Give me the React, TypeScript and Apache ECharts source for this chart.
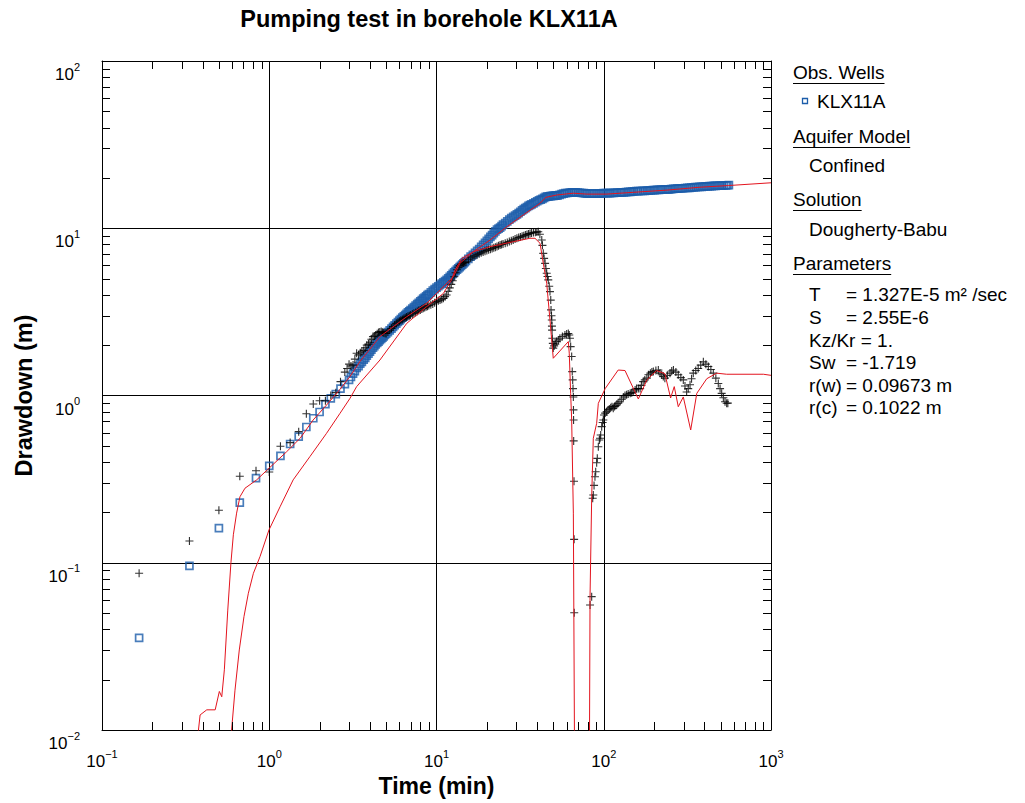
import React, { useEffect, useRef } from 'react';
import * as echarts from 'echarts';

const FONT = '"Liberation Sans", Arial, Helvetica, sans-serif';

const X_MIN = 0.1;
const X_MAX = 1000;
const Y_MIN = 0.01;
const Y_MAX = 100;
const X_DECADES = [0.1, 1, 10, 100];
const Y_DECADES = [0.01, 0.1, 1, 10];
const MINOR_MULTS = [2, 3, 4, 5, 6, 7, 8, 9];

const TITLE = 'Pumping test in borehole KLX11A';
const X_NAME = 'Time (min)';
const Y_NAME = 'Drawdown (m)';

// Observed drawdown, KLX11A (t in min, s in m)
const OBS_DRAWDOWN: [number, number][] = [
  [0.1667, 0.0355], [0.3333, 0.0957], [0.5, 0.161], [0.6667, 0.229], [0.8333, 0.321], [1.0, 0.379],
  [1.1667, 0.435], [1.3333, 0.513], [1.5, 0.568], [1.6667, 0.648], [1.8333, 0.731], [2.0, 0.797],
  [2.1667, 0.889], [2.3333, 0.962], [2.5, 1.02], [2.6667, 1.1], [2.8333, 1.17],
  [3.0, 1.24], [3.08, 1.29], [3.17, 1.35], [3.25, 1.4], [3.33, 1.46], [3.42, 1.5], [3.5, 1.55],
  [3.58, 1.59], [3.67, 1.64], [3.75, 1.68], [3.83, 1.73], [3.92, 1.78], [4.0, 1.83], [4.08, 1.88],
  [4.17, 1.93], [4.25, 1.97], [4.33, 2.02], [4.42, 2.06], [4.5, 2.1], [4.58, 2.14], [4.67, 2.18],
  [4.75, 2.22], [4.83, 2.26], [4.92, 2.3], [5.0, 2.34], [5.12, 2.39], [5.25, 2.45], [5.38, 2.51],
  [5.5, 2.57], [5.62, 2.63], [5.75, 2.69], [5.88, 2.75], [6.0, 2.8], [6.12, 2.86], [6.25, 2.92],
  [6.38, 2.97], [6.5, 3.03], [6.62, 3.08], [6.75, 3.14], [6.88, 3.19], [7.0, 3.24], [7.17, 3.31],
  [7.33, 3.38], [7.5, 3.45], [7.67, 3.52], [7.83, 3.58], [8.0, 3.65], [8.17, 3.72], [8.33, 3.79],
  [8.5, 3.85], [8.67, 3.92], [8.83, 3.98], [9.0, 4.04], [9.25, 4.14], [9.5, 4.24], [9.75, 4.32],
  [10, 4.41], [10.25, 4.5], [10.5, 4.58], [10.75, 4.66], [11, 4.75], [11.25, 4.83], [11.5, 4.91],
  [11.75, 5.01], [12, 5.12], [12.25, 5.23], [12.5, 5.34], [12.75, 5.44], [13, 5.55], [13.25, 5.65],
  [13.5, 5.75], [13.75, 5.85], [14, 5.96], [14.25, 6.06], [14.5, 6.16], [14.75, 6.26], [15, 6.37],
  [15.5, 6.56], [16, 6.76], [16.5, 6.94], [17, 7.13], [17.5, 7.32], [18, 7.51], [18.5, 7.73],
  [19, 7.96], [19.5, 8.18], [20, 8.41], [20.5, 8.64], [21, 8.87], [21.5, 9.1], [22, 9.34],
  [22.5, 9.57], [23, 9.81], [23.5, 9.95], [24, 10.1], [24.5, 10.3], [25, 10.5], [25.75, 10.75],
  [26.5, 11.0], [27.25, 11.25], [28, 11.5], [28.75, 11.7], [29.5, 11.9], [30.25, 12.1], [31, 12.3],
  [31.75, 12.55], [32.5, 12.8], [33.25, 13.0], [34, 13.2], [34.75, 13.4], [35.5, 13.6],
  [36.25, 13.75], [37, 13.9], [38, 14.1], [39, 14.3], [40, 14.5], [41, 14.7], [42, 14.85], [43, 15.0],
  [44, 15.2], [45, 15.4], [46, 15.45], [47, 15.5], [48, 15.55], [49, 15.6], [50, 15.62], [51, 15.65],
  [52, 15.68], [53, 15.7], [54.5, 15.85], [56, 16.0], [57.5, 16.1], [59, 16.2], [60.5, 16.25],
  [62, 16.3], [63.5, 16.35], [65, 16.4], [66.5, 16.4], [68, 16.4], [70, 16.35], [72, 16.3],
  [74, 16.25], [76, 16.2], [78, 16.15], [80, 16.1], [82.5, 16.1], [85, 16.1], [87.5, 16.1],
  [90, 16.1], [92.5, 16.1], [95, 16.1], [97.5, 16.15], [100, 16.2], [103, 16.2], [106, 16.2],
  [109, 16.22], [112, 16.25], [115, 16.28], [118, 16.3], [121, 16.32], [125, 16.35], [128, 16.38],
  [132, 16.4], [136, 16.45], [140, 16.5], [144, 16.52], [148, 16.55], [152, 16.6], [157, 16.65],
  [161, 16.68], [166, 16.7], [171, 16.72], [176, 16.75], [181, 16.78], [186, 16.8], [191, 16.85],
  [197, 16.9], [202, 16.92], [208, 16.95], [214, 16.98], [220, 17.0], [226, 17.05], [233, 17.1],
  [240, 17.1], [246, 17.1], [253, 17.15], [260, 17.2], [267, 17.22], [275, 17.25], [282, 17.28],
  [290, 17.3], [298, 17.35], [307, 17.4], [316, 17.42], [325, 17.45], [334, 17.5], [344, 17.55],
  [354, 17.6], [364, 17.65], [374, 17.68], [385, 17.7], [396, 17.75], [407, 17.8], [418, 17.82],
  [430, 17.85], [442, 17.88], [455, 17.9], [467, 17.92], [480, 17.95], [494, 17.98], [508, 18.0],
  [522, 18.02], [537, 18.05], [548, 18.08], [560, 18.1],
];

// Observed derivative (crosses)
const OBS_DERIVATIVE: [number, number][] = [
  [0.1667, 0.0865], [0.3333, 0.135], [0.5, 0.206], [0.6667, 0.329], [0.8333, 0.355], [1.0, 0.349],
  [1.1667, 0.497], [1.3333, 0.523], [1.5, 0.608], [1.6667, 0.778], [1.8333, 0.889], [2.0, 0.931],
  [2.1667, 0.93], [2.3333, 1.0], [2.5, 1.04], [2.6667, 1.21], [2.83, 1.38], [2.92, 1.45], [3.0, 1.54],
  [3.08, 1.5], [3.17, 1.52], [3.25, 1.65], [3.33, 1.79], [3.42, 1.75], [3.5, 1.8], [3.58, 1.84],
  [3.67, 1.86], [3.75, 1.93], [3.83, 2.0], [3.92, 2.03], [4.0, 2.08], [4.08, 2.17], [4.17, 2.25],
  [4.25, 2.27], [4.33, 2.3], [4.42, 2.34], [4.5, 2.38], [4.58, 2.4], [4.67, 2.41], [4.75, 2.39],
  [4.83, 2.37], [4.92, 2.36], [5.0, 2.35], [5.12, 2.4], [5.25, 2.46], [5.38, 2.52], [5.5, 2.58],
  [5.62, 2.64], [5.75, 2.7], [5.88, 2.74], [6.0, 2.78], [6.12, 2.82], [6.25, 2.85], [6.38, 2.89],
  [6.5, 2.92], [6.62, 2.95], [6.75, 2.98], [6.88, 3.0], [7.0, 3.03], [7.17, 3.07], [7.33, 3.1],
  [7.5, 3.14], [7.67, 3.18], [7.83, 3.22], [8.0, 3.25], [8.17, 3.29], [8.33, 3.32], [8.5, 3.36],
  [8.67, 3.39], [8.83, 3.42], [9.0, 3.45], [9.25, 3.49], [9.5, 3.53], [9.75, 3.59], [10.0, 3.64],
  [10.25, 3.68], [10.5, 3.72], [10.75, 3.76], [11.0, 3.81], [11.25, 3.9], [11.5, 3.99], [11.75, 4.2],
  [12.0, 4.4], [12.25, 4.62], [12.5, 4.85], [12.75, 5.13], [13.0, 5.42], [13.25, 5.65], [13.5, 5.85],
  [13.75, 5.98], [14.0, 6.08], [14.25, 6.15], [14.5, 6.2], [14.75, 6.25], [15.0, 6.29], [15.5, 6.48],
  [16.0, 6.65], [16.5, 6.75], [17.0, 6.85], [17.5, 6.94], [18.0, 7.03], [18.5, 7.13], [19.0, 7.22],
  [19.5, 7.29], [20.0, 7.36], [20.5, 7.43], [21.0, 7.5], [21.5, 7.57], [22.0, 7.64], [22.5, 7.7],
  [23.0, 7.77], [23.5, 7.86], [24.0, 7.94], [24.5, 8.0], [25.0, 8.05], [25.75, 8.14], [26.5, 8.23],
  [27.25, 8.32], [28.0, 8.42], [28.75, 8.52], [29.5, 8.63], [30.25, 8.72], [31.0, 8.8], [31.75, 8.88],
  [32.5, 8.95], [33.25, 9.02], [34.0, 9.1], [34.75, 9.18], [35.5, 9.25], [36.25, 9.3], [37.0, 9.36],
  [38.0, 9.42], [39.0, 9.48], [39.8, 9.5], [40.6, 9.53], [41.5, 9.2], [42.6, 8.51], [43.0, 7.9],
  [43.5, 7.08], [44.0, 6.6], [44.6, 6.17], [45.1, 5.75], [45.6, 5.38], [46.1, 5.15], [46.6, 4.91],
  [47.2, 4.5], [47.7, 4.18], [48.2, 3.72], [48.4, 3.25], [48.7, 3.0], [48.9, 2.83], [49.0, 2.6],
  [49.1, 2.46], [49.3, 2.2], [49.6, 2.05], [49.9, 1.92], [50.5, 1.98], [51.3, 2.03], [52.3, 2.1],
  [53.5, 2.15], [54.7, 2.2], [56.6, 2.25], [58.6, 2.3], [60, 2.33], [61.4, 2.35], [62.2, 2.3],
  [62.8, 2.2], [63.4, 1.96], [64.3, 1.71], [64.8, 1.39], [65.2, 1.24], [65.5, 1.1], [65.8, 0.98],
  [65.9, 0.82], [66.0, 0.714], [66.1, 0.535], [66.4, 0.307], [66.5, 0.138], [66.6, 0.0502],
  [82.8, 0.0559], [84.7, 0.0627], [85.9, 0.243], [86.6, 0.254], [87.5, 0.29], [88.6, 0.327],
  [89.5, 0.35], [90.7, 0.396], [91.5, 0.421], [92.8, 0.494], [94.1, 0.542], [95.0, 0.555],
  [95.9, 0.581], [97.2, 0.651], [98.5, 0.69], [99.4, 0.714], [100.4, 0.764], [102, 0.785],
  [104, 0.8], [106, 0.82], [108, 0.83], [110, 0.845], [112, 0.857], [114, 0.838], [116, 0.86],
  [118, 0.87], [120, 0.89], [122, 0.898], [125, 0.918], [128, 0.95], [131, 0.98], [134, 1.0],
  [137, 1.01], [140, 1.02], [144, 1.03], [147, 1.04], [150, 1.05], [154, 1.08], [157, 1.1],
  [161, 1.1], [165, 1.1], [168, 1.15], [172, 1.21], [176, 1.24], [181, 1.27], [185, 1.33],
  [190, 1.36], [194, 1.38], [198, 1.39], [205, 1.41], [212, 1.42], [217, 1.36], [222, 1.33],
  [227, 1.3], [232, 1.27], [240, 1.32], [249, 1.36], [255, 1.4], [261, 1.42], [270, 1.38],
  [279, 1.33], [289, 1.28], [299, 1.24], [306, 1.14], [313, 1.05], [320, 1.1], [328, 1.16],
  [335, 1.26], [343, 1.36], [355, 1.41], [367, 1.45], [380, 1.52], [394, 1.59], [408, 1.54],
  [422, 1.49], [437, 1.43], [452, 1.36], [468, 1.27], [484, 1.18], [496, 1.1], [507, 1.03],
  [519, 0.97], [531, 0.918], [543, 0.898], [552, 0.9],
];

// Dougherty-Babu type curve (drawdown)
const MODEL_DRAWDOWN: [number, number][] = [
  [0.373, 0.009], [0.386, 0.0123], [0.423, 0.0132], [0.475, 0.0132], [0.503, 0.017], [0.52, 0.0158],
  [0.539, 0.0229], [0.565, 0.0521], [0.59, 0.1], [0.61, 0.147], [0.638, 0.198], [0.668, 0.248],
  [0.716, 0.279], [0.841, 0.313], [0.996, 0.367], [1.27, 0.461], [1.53, 0.555], [1.83, 0.714],
  [2.2, 0.877], [2.65, 1.09], [3.04, 1.3], [3.49, 1.6], [4.59, 2.25], [6.64, 2.96], [8.74, 3.56],
  [10.5, 4.27], [12.6, 5.13], [13.8, 6.17], [16.6, 7.24], [20.9, 8.51], [26.3, 10.2], [33.0, 12.0],
  [41.6, 14.1], [45.0, 15.3], [52.3, 15.8], [65.8, 16.2], [79.1, 16.0], [104, 16.0], [150, 16.4],
  [238, 16.9], [377, 17.6], [556, 18.0], [1000, 18.7],
];

// Dougherty-Babu type curve (derivative)
const MODEL_DERIVATIVE: [number, number][] = [
  [0.59, 0.009], [0.624, 0.0173], [0.662, 0.0301], [0.706, 0.0476], [0.75, 0.0657], [0.804, 0.0865],
  [0.881, 0.109], [0.996, 0.157], [1.16, 0.216], [1.39, 0.313], [1.75, 0.431], [2.2, 0.594],
  [2.65, 0.783], [3.04, 0.962], [3.33, 1.13], [4.59, 1.63], [6.64, 2.7], [8.74, 3.4], [11.0, 4.08],
  [12.3, 4.91], [12.9, 5.62], [14.2, 6.61], [16.6, 7.24], [20.9, 7.76], [28.8, 8.31], [36.2, 8.71],
  [38.8, 8.71], [41.6, 8.13], [43.5, 6.17], [45.6, 4.69], [47.7, 2.83], [49.9, 1.67], [61.4, 2.1],
  [62.2, 1.79], [63.4, 1.03], [64.3, 0.714], [65.8, 0.198], [67.0, 0.005], [82.0, 0.005],
  [82.8, 0.0627], [84.7, 0.248], [86.6, 0.555], [90.7, 0.682], [92.8, 0.898], [102, 1.1],
  [122, 1.42], [134, 1.41], [161, 0.953], [181, 1.24], [207, 1.41], [232, 1.35], [251, 0.966],
  [264, 1.13], [279, 0.857], [299, 0.98], [331, 0.622], [360, 1.03], [413, 1.26], [473, 1.36],
  [543, 1.34], [900, 1.34], [1000, 1.32],
];

const WELL_NAME = 'KLX11A';
const MODEL_NAME = 'Confined';
const SOLUTION_NAME = 'Dougherty-Babu';
const PARAMS: [string, string][] = [
  ['T', '= 1.327E-5 m² /sec'],
  ['S', '= 2.55E-6'],
  ['Kz/Kr', '= 1.'],
  ['Sw', '= -1.719'],
  ['r(w)', '= 0.09673 m'],
  ['r(c)', '= 0.1022 m'],
];

const BLUE = '#1c5daa';
const RED = '#e3141e';
const LEG_FS = 19;

function measure(text: string, size: number, weight = 'normal'): number {
  const c = document.createElement('canvas').getContext('2d');
  if (!c) return text.length * size * 0.55;
  c.font = `${weight} ${size}px "Liberation Sans", Arial, sans-serif`;
  return c.measureText(text).width;
}

function supLabel(v: number): string {
  const e = Math.round(Math.log10(v));
  return `{b|10}{s|${e < 0 ? '\u2212' + -e : e}}`;
}

const labelRich = {
  b: { fontSize: 17, fontFamily: FONT, color: '#000', lineHeight: 22, verticalAlign: 'bottom' },
  s: { fontSize: 11, fontFamily: FONT, color: '#000', lineHeight: 16, verticalAlign: 'top' },
};

function buildOption() {
  const tickData: number[][] = [];
  X_DECADES.forEach((d) => MINOR_MULTS.forEach((m) => tickData.push([d * m, Y_MIN, 0])));
  Y_DECADES.forEach((d) => MINOR_MULTS.forEach((m) => tickData.push([X_MIN, d * m, 1])));
  const TICK = 8;

  const graphics: any[] = [];
  const txt = (text: string, x: number, y: number, extra: any = {}) => ({
    type: 'text',
    x,
    y,
    silent: true,
    style: {
      text,
      fill: '#000',
      fontSize: LEG_FS,
      fontFamily: FONT,
      align: 'left',
      verticalAlign: 'middle',
      ...extra,
    },
  });
  const header = (text: string, y: number) => {
    graphics.push(txt(text, 793, y));
    const w = measure(text, LEG_FS);
    graphics.push({
      type: 'line',
      silent: true,
      shape: { x1: 793, y1: y + 11.5, x2: 793 + w, y2: y + 11.5 },
      style: { stroke: '#000', lineWidth: 1 },
    });
  };

  graphics.push(txt(TITLE, 429, 19, { align: 'center', fontSize: 23.5, fontWeight: 'bold' }));

  header('Obs. Wells', 72);
  graphics.push({
    type: 'rect',
    silent: true,
    shape: { x: 802.5, y: 98.5, width: 5, height: 5 },
    style: { fill: 'none', stroke: BLUE, lineWidth: 1.3 },
  });
  graphics.push(txt(WELL_NAME, 817, 101));
  header('Aquifer Model', 136);
  graphics.push(txt(MODEL_NAME, 809, 165));
  header('Solution', 199);
  graphics.push(txt(SOLUTION_NAME, 809, 229));
  header('Parameters', 263);
  const rowY = [294, 317, 340, 362, 385, 407];
  PARAMS.forEach(([name, val], i) => {
    const nameW = measure(name, LEG_FS);
    // names that fit before the '=' column keep it aligned; longer ones run inline
    const eqX = nameW > 36 ? 809 + measure(name + ' ', LEG_FS) : 846;
    graphics.push(txt(name, 809, rowY[i]));
    graphics.push(txt(val, eqX, rowY[i]));
  });

  const axisCommon = {
    type: 'log',
    logBase: 10,
    axisLine: { show: true, onZero: false, lineStyle: { color: '#000', width: 1 } },
    axisTick: { show: false },
  };

  return {
    animation: false,
    backgroundColor: '#fff',
    grid: { left: 102, right: 254, top: 61, bottom: 73, containLabel: false },
    graphic: graphics,
    xAxis: [
      {
        ...axisCommon,
        min: X_MIN,
        max: X_MAX,
        position: 'bottom',
        axisLabel: { formatter: supLabel, rich: labelRich, margin: 18 },
        splitLine: { show: true, lineStyle: { color: '#000', width: 1 } },
        name: X_NAME,
        nameLocation: 'middle',
        nameGap: 44,
        nameTextStyle: { fontSize: 23, fontWeight: 'bold', fontFamily: FONT, color: '#000' },
      },
      {
        ...axisCommon,
        min: X_MIN,
        max: X_MAX,
        position: 'top',
        axisLabel: { show: false },
        splitLine: { show: false },
      },
    ],
    yAxis: [
      {
        ...axisCommon,
        min: Y_MIN,
        max: Y_MAX,
        position: 'left',
        axisLabel: { formatter: supLabel, rich: labelRich, margin: 22, verticalAlign: 'top' },
        splitLine: { show: true, lineStyle: { color: '#000', width: 1 } },
        name: Y_NAME,
        nameLocation: 'middle',
        nameGap: 66,
        nameTextStyle: { fontSize: 23.5, fontWeight: 'bold', fontFamily: FONT, color: '#000' },
      },
      {
        ...axisCommon,
        min: Y_MIN,
        max: Y_MAX,
        position: 'right',
        axisLabel: { show: false },
        splitLine: { show: false },
      },
    ],
    series: [
      {
        type: 'custom',
        silent: true,
        clip: false,
        z: 5,
        data: tickData,
        renderItem: (_p: any, api: any) => {
          const kind = api.value(2);
          const style = { stroke: '#000', lineWidth: 1 };
          if (kind === 0) {
            const v = api.value(0);
            const b = api.coord([v, Y_MIN]);
            const t = api.coord([v, Y_MAX]);
            const x = Math.round(b[0]) + 0.5;
            return {
              type: 'group',
              children: [
                { type: 'line', shape: { x1: x, y1: b[1], x2: x, y2: b[1] - TICK }, style },
                { type: 'line', shape: { x1: x, y1: t[1], x2: x, y2: t[1] + TICK }, style },
              ],
            };
          }
          const v = api.value(1);
          const l = api.coord([X_MIN, v]);
          const r = api.coord([X_MAX, v]);
          const y = Math.round(l[1]) + 0.5;
          return {
            type: 'group',
            children: [
              { type: 'line', shape: { x1: l[0], y1: y, x2: l[0] + TICK, y2: y }, style },
              { type: 'line', shape: { x1: r[0], y1: y, x2: r[0] - TICK, y2: y }, style },
            ],
          };
        },
      },
      {
        name: 'KLX11A',
        type: 'scatter',
        data: OBS_DRAWDOWN,
        symbol: 'rect',
        symbolSize: 7,
        itemStyle: { color: 'rgba(255,255,255,0)', borderColor: BLUE, borderWidth: 1.7 },
        z: 2,
      },
      {
        name: 'KLX11A derivative',
        type: 'scatter',
        data: OBS_DERIVATIVE,
        symbol: 'path://M0,4.3H10V5.7H0Z M4.3,0H5.7V10H4.3Z',
        symbolSize: 8,
        itemStyle: { color: '#000' },
        z: 2,
      },
      {
        name: 'Type curve',
        type: 'line',
        data: MODEL_DRAWDOWN,
        showSymbol: false,
        symbol: 'none',
        clip: true,
        lineStyle: { color: RED, width: 1 },
        z: 3,
      },
      {
        name: 'Derivative curve',
        type: 'line',
        data: MODEL_DERIVATIVE,
        showSymbol: false,
        symbol: 'none',
        clip: true,
        lineStyle: { color: RED, width: 1 },
        z: 3,
      },
    ],
  };
}

export default function App() {
  const ref = useRef<HTMLDivElement>(null);
  useEffect(() => {
    if (!ref.current) return;
    const chart = echarts.init(ref.current, null, { renderer: 'svg' });
    chart.setOption(buildOption() as any);
    return () => {
      chart.dispose();
    };
  }, []);
  return (
    <div
      ref={ref}
      style={{ position: 'fixed', left: 0, top: 0, width: 1025, height: 803, background: '#fff' }}
    />
  );
}
